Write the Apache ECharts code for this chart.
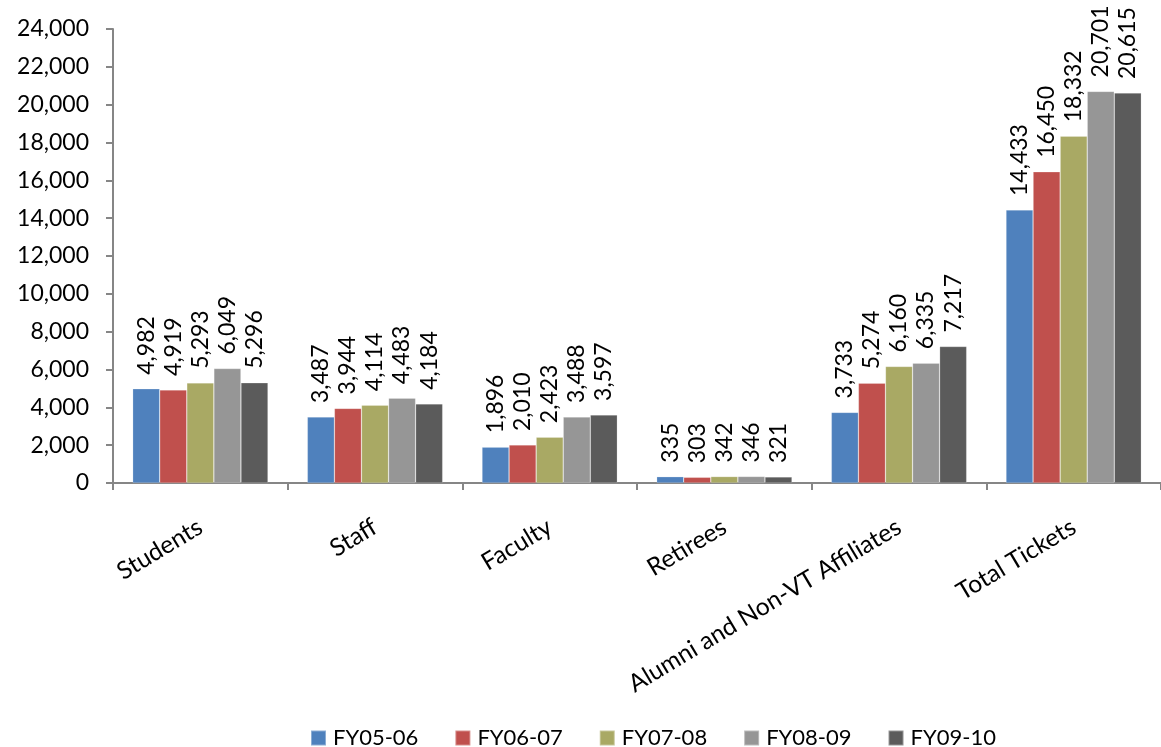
<!DOCTYPE html>
<html>
<head>
<meta charset="utf-8">
<script src="https://cdn.jsdelivr.net/npm/echarts@6/dist/echarts.min.js"></script>
<style>
html,body{margin:0;padding:0;background:#fff;}
#chart{width:1161px;height:747px;}
</style>
</head>
<body>
<div id="chart"></div>
<script>
var categories = ["Students", "Staff", "Faculty", "Retirees", "Alumni and Non-VT Affiliates", "Total Tickets"];
var seriesNames = ["FY05-06", "FY06-07", "FY07-08", "FY08-09", "FY09-10"];
var fy0506 = [4982, 3487, 1896, 335, 3733, 14433];
var fy0607 = [4919, 3944, 2010, 303, 5274, 16450];
var fy0708 = [5293, 4114, 2423, 342, 6160, 18332];
var fy0809 = [6049, 4483, 3488, 346, 6335, 20701];
var fy0910 = [5296, 4184, 3597, 321, 7217, 20615];
var colors = ["#4F81BD", "#C0504D", "#A9A964", "#969696", "#5B5B5B"];
var yMin = 0, yMax = 24000, yStep = 2000;

var FONT = "Lato, 'Open Sans', sans-serif";
function fmt(v){ return Number(v).toLocaleString('en-US'); }

var allData = [fy0506, fy0607, fy0708, fy0809, fy0910];
var series = allData.map(function(d, i){
  return {
    name: seriesNames[i],
    type: 'bar',
    data: d,
    barGap: 0,
    barCategoryGap: '22.5%',
    itemStyle: { color: colors[i], borderColor: 'rgba(255,255,255,0.35)', borderWidth: 0.6 },
    label: {
      show: true,
      position: 'top',
      rotate: 90,
      align: 'left',
      verticalAlign: 'middle',
      distance: 14,
      fontFamily: FONT,
      fontSize: 23,
      color: '#000',
      formatter: function(p){ return fmt(p.value); }
    }
  };
});

var chart = echarts.init(document.getElementById('chart'), null, {renderer: 'canvas'});
chart.setOption({
  animation: false,
  color: colors,
  grid: { left: 113, top: 29, bottom: 264, width: 1064, containLabel: false },
  legend: {
    data: seriesNames,
    left: 310,
    top: 727,
    padding: 0,
    icon: 'rect',
    itemWidth: 15,
    itemHeight: 15,
    itemGap: 36,
    textStyle: { fontFamily: FONT, fontSize: 22, color: '#000', padding: [0,0,0,2] }
  },
  xAxis: {
    type: 'category',
    data: categories,
    axisLine: { lineStyle: { color: '#868686', width: 2 } },
    axisTick: { show: true, length: 7, lineStyle: { color: '#868686', width: 2 }, alignWithLabel: false },
    axisLabel: {
      interval: 0,
      rotate: 31,
      margin: 42,
      fontFamily: FONT,
      fontSize: 24.5,
      color: '#000'
    }
  },
  yAxis: {
    type: 'value',
    min: yMin,
    max: yMax,
    interval: yStep,
    splitLine: { show: false },
    axisLine: { show: true, lineStyle: { color: '#868686', width: 2 } },
    axisTick: { show: true, length: 7, lineStyle: { color: '#868686', width: 2 } },
    axisLabel: {
      margin: 24,
      fontFamily: FONT,
      fontSize: 23,
      color: '#000',
      formatter: function(v){ return fmt(v); }
    }
  },
  series: series
});
</script>
</body>
</html>
